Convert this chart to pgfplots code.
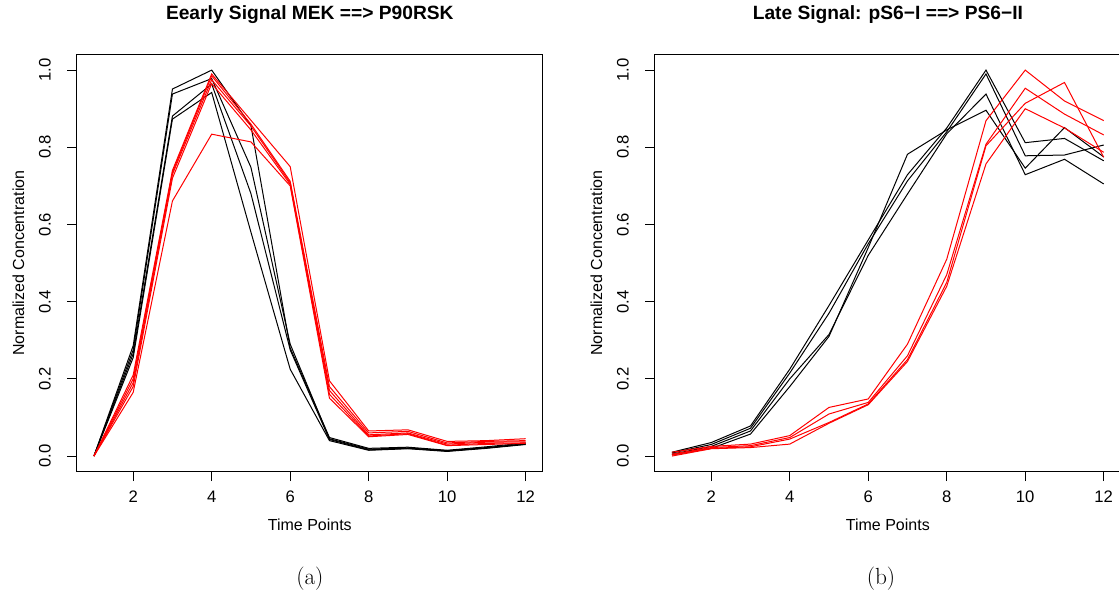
\documentclass[border=0pt]{standalone}
\usepackage{fontspec}
\newfontfamily\lsans{Liberation Sans}
\usepackage{pgfplots}
\usepackage{pgfplotstable}
\pgfplotsset{compat=1.18}

% early signal: 4 black (MEK), 5 red (P90RSK)
\pgfplotstableread{
t  b1    b2    b3    b4    r1    r2    r3    r4    r5
1  0.000 0.000 0.000 0.000 0.000 0.000 0.000 0.000 0.000
2  0.286 0.275 0.265 0.255 0.210 0.200 0.190 0.180 0.165
3  0.951 0.938 0.881 0.873 0.740 0.735 0.730 0.720 0.661
4  1.000 0.978 0.964 0.942 0.990 0.985 0.975 0.965 0.834
5  0.856 0.748 0.680 0.580 0.870 0.860 0.855 0.845 0.814
6  0.280 0.290 0.275 0.225 0.750 0.712 0.708 0.704 0.700
7  0.048 0.045 0.043 0.040 0.195 0.180 0.170 0.160 0.150
8  0.020 0.018 0.016 0.015 0.065 0.060 0.055 0.052 0.050
9  0.023 0.021 0.020 0.019 0.068 0.064 0.060 0.058 0.056
10 0.015 0.014 0.013 0.012 0.038 0.034 0.031 0.028 0.027
11 0.024 0.022 0.021 0.020 0.040 0.038 0.036 0.033 0.030
12 0.034 0.032 0.031 0.030 0.045 0.040 0.037 0.034 0.033
}\earlydata

% late signal: 4 black (pS6-I), 4 red (PS6-II)
\pgfplotstableread{
t  b1    b2    b3    b4    r1    r2    r3    r4
1  0.010 0.008 0.005 0.003 0.010 0.005 0.003 0.000
2  0.035 0.030 0.025 0.020 0.025 0.022 0.020 0.019
3  0.078 0.072 0.065 0.057 0.031 0.027 0.024 0.022
4  0.225 0.215 0.200 0.180 0.053 0.048 0.044 0.031
5  0.390 0.370 0.315 0.310 0.126 0.109 0.087 0.085
6  0.560 0.550 0.520 0.540 0.148 0.139 0.135 0.133
7  0.729 0.713 0.679 0.782 0.290 0.260 0.250 0.245
8  0.850 0.840 0.835 0.845 0.510 0.470 0.450 0.440
9  1.000 0.990 0.938 0.896 0.869 0.808 0.804 0.757
10 0.812 0.778 0.729 0.746 1.000 0.953 0.914 0.900
11 0.823 0.780 0.769 0.851 0.920 0.886 0.968 0.850
12 0.765 0.806 0.705 0.775 0.869 0.832 0.774 0.787
}\latedata

\pgfplotsset{
  rplot/.style={
    scale only axis, width=349.7pt, height=312.6pt,
    xmin=0.56, xmax=12.44, ymin=-0.04, ymax=1.04,
    xtick={2,4,6,8,10,12}, ytick={0,0.2,0.4,0.6,0.8,1},
    tick align=outside, xtick pos=bottom, ytick pos=left,
    major tick length=7.2pt,
    every tick/.style={black, line width=0.75pt},
    axis line style={line width=0.75pt},
    /pgf/number format/assume math mode=true,
    ticklabel style={font=\lsans\fontsize{12.5}{14}\selectfont},
    xticklabel style={anchor=base, yshift=-16.4pt},
    yticklabel style={rotate=90, anchor=base, yshift=12.3pt,
      /pgf/number format/.cd, fixed, fixed zerofill, precision=1},
    label style={font=\lsans\fontsize{12}{14}\selectfont},
    xlabel style={at={(axis description cs:0.5,0)}, anchor=base, yshift=-44.3pt},
    ylabel style={at={(axis description cs:0,0.5)}, anchor=base, yshift=39.5pt},
    title style={at={(axis description cs:0.5,1)}, anchor=base, yshift=20.4pt,
      font=\lsans\bfseries\fontsize{14.4}{17}\selectfont},
    xlabel={Time Points}, ylabel={Normalized Concentration},
  },
}

\begin{document}
\begin{tikzpicture}
\begin{axis}[rplot, at={(0pt,0pt)}, anchor=south west,
  title={Eearly Signal MEK ==> P90RSK}]
  \pgfplotsinvokeforeach{b1,b2,b3,b4}{
    \addplot[black, line width=0.75pt] table[x=t, y=#1] {\earlydata};
  }
  \pgfplotsinvokeforeach{r1,r2,r3,r4,r5}{
    \addplot[red, line width=0.75pt] table[x=t, y=#1] {\earlydata};
  }
\end{axis}
\begin{axis}[rplot, at={(433.5pt,0pt)}, anchor=south west,
  title={Late Signal: pS6−I ==> PS6−II}]
  \pgfplotsinvokeforeach{b1,b2,b3,b4}{
    \addplot[black, line width=0.75pt] table[x=t, y=#1] {\latedata};
  }
  \pgfplotsinvokeforeach{r1,r2,r3,r4}{
    \addplot[red, line width=0.75pt] table[x=t, y=#1] {\latedata};
  }
\end{axis}
\node[anchor=base, font=\fontsize{17.5}{20}\selectfont] at (174.9pt,-84.5pt) {(a)};
\node[anchor=base, font=\fontsize{17.5}{20}\selectfont] at (603.2pt,-84.5pt) {(b)};
\pgfresetboundingbox
\path[use as bounding box] (-57.5pt,-92pt) rectangle (781.7pt,353.6pt);
\end{tikzpicture}
\end{document}
